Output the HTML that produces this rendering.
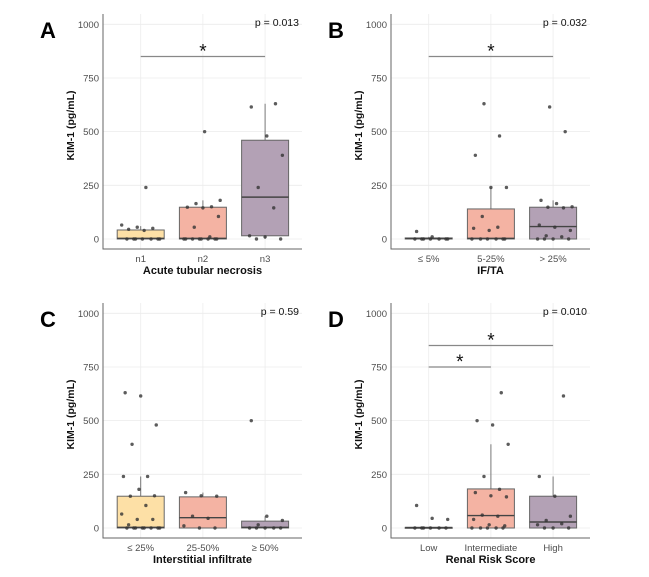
<!DOCTYPE html>
<html><head><meta charset="utf-8"><style>
body{margin:0;background:#fff}
svg{display:block;font-family:"Liberation Sans",Arial,sans-serif}
</style></head><body>
<svg id="chart" width="649" height="577" viewBox="0 0 649 577" xmlns="http://www.w3.org/2000/svg"></svg>
<script>
const yTicks=[0,250,500,750,1000];
const fills=["#fde0a6","#f4b3a3","#b3a1b5"];
// Panel A
const catsA=["n1","n2","n3"];
const boxA=[[0,0,3,42,60],[0,0,3,148,180],[0,15,195,460,630]];
const ptsA=[[0,0,0,0,0,0,0,40,45,50,55,65,240],[0,0,0,0,0,0,0,0,10,55,105,145,148,150,165,180,500],[0,0,10,15,145,240,390,480,615,630]];
// Panel B
const catsB=["≤ 5%","5-25%","> 25%"];
const boxB=[[0,0,2,5,10],[0,0,3,140,240],[0,0,58,148,180]];
const ptsB=[[0,0,0,0,0,0,0,10,35],[0,0,0,0,0,0,40,50,55,105,240,240,390,480,630],[0,0,0,0,10,15,40,55,65,145,148,150,165,180,500,615]];
// Panel C
const catsC=["≤ 25%","25-50%","≥ 50%"];
const boxC=[[0,0,3,148,240],[0,0,48,145,165],[0,0,3,32,55]];
const ptsC=[[0,0,0,0,0,0,0,0,15,40,40,65,105,148,150,180,240,240,390,480,615,630],[0,0,10,45,55,148,150,165],[0,0,0,0,0,15,35,55,500]];
// Panel D
const catsD=["Low","Intermediate","High"];
const boxD=[[0,0,2,3,5],[0,0,58,182,390],[0,0,28,148,240]];
const ptsD=[[0,0,0,0,0,0,40,45,105],[0,0,0,0,0,10,15,40,55,60,145,150,165,180,240,390,480,500,630],[0,0,0,15,20,35,55,148,240,615]];

const svg=document.getElementById('chart');
const NS="http://www.w3.org/2000/svg";
function mk(tag,attrs,parent,text){const e=document.createElementNS(NS,tag);for(const k in attrs)e.setAttribute(k,attrs[k]);if(text!==undefined)e.textContent=text;(parent||svg).appendChild(e);return e;}

function panel(letter,ox,oy,cats,boxes,pts,pText,xTitle,brackets){
  const g=mk('g',{});
  
  
  const left=ox,right=ox+199,top=oy+14,bottom=oy+249;
  const y=v=>oy+239-v*0.2147;
  const x=i=>left+37.7+i*62.2;
  const bw=47;
  yTicks.forEach(t=>{
    const gl=mk('line',{x1:left,x2:right,y1:y(t),y2:y(t),stroke:'#ececec','stroke-width':0.8},g);
    
    
    const tl=mk('text',{x:left-4,y:y(t)+3.5,'font-size':9.5,fill:'#4d4d4d','text-anchor':'end'},g,String(t));
    
    
  });
  cats.forEach((c,i)=>{
    const gl=mk('line',{x1:x(i),x2:x(i),y1:top,y2:bottom,stroke:'#ececec','stroke-width':0.8},g);
    
    
  });
  const ax=mk('path',{d:`M${left} ${top}V${bottom}H${right}`,stroke:'#666','stroke-width':1,fill:'none'},g);
  
  
  boxes.forEach((b,i)=>{
    const cx=x(i);
    const w=mk('line',{x1:cx,x2:cx,y1:y(b[0]),y2:y(b[4]),stroke:'#777','stroke-width':1},g);
    
    
    const r=mk('rect',{x:cx-bw/2,y:y(b[3]),width:bw,height:Math.max(1,y(b[1])-y(b[3])),fill:fills[i],stroke:'#666','stroke-width':1},g);
    
    
    const m=mk('line',{x1:cx-bw/2,x2:cx+bw/2,y1:y(b[2]),y2:y(b[2]),stroke:'#444','stroke-width':1.4},g);
    
    
  });
  pts.forEach((arr,i)=>{
    arr.forEach((v,j)=>{
      const jit=(((j*37+i*11+7)%23)/22-0.5)*38;
      const p=mk('circle',{cx:x(i)+jit,cy:y(v),r:1.7,fill:'#333','fill-opacity':0.8},g);
      
      
    });
    const cl=mk('text',{x:x(i),y:oy+262,'font-size':9.5,fill:'#4d4d4d','text-anchor':'middle'},g,cats[i]);
    
    
  });
  brackets.forEach(br=>{
    const bl=mk('line',{x1:x(br[0]),x2:x(br[1]),y1:y(br[2]),y2:y(br[2]),stroke:'#888','stroke-width':1.2},g);
    
    
    const st=mk('text',{x:(x(br[0])+x(br[1]))/2,y:y(br[2])+1,'font-size':19,fill:'#111','text-anchor':'middle'},g,'*');
    
    
  });
  const pt=mk('text',{x:right-3,y:oy+26,'font-size':10.5,fill:'#111','text-anchor':'end'},g,pText);
  
  
  const xt=mk('text',{x:(left+right)/2,y:oy+274,'font-size':11,'font-weight':'bold',fill:'#111','text-anchor':'middle'},g,xTitle);
  
  
  const yt=mk('text',{x:0,y:0,'font-size':10.5,'font-weight':'bold',fill:'#111','text-anchor':'middle',transform:`translate(${left-29},${(top+bottom)/2-6}) rotate(-90)`},g,'KIM-1 (pg/mL)');
  
  
  const lt=mk('text',{x:ox-63,y:oy+38,'font-size':22,'font-weight':'bold',fill:'#000'},g,letter);
  
  
}
panel('A',103,0,catsA,boxA,ptsA,'p = 0.013','Acute tubular necrosis',[[0,2,850]]);
panel('B',391,0,catsB,boxB,ptsB,'p = 0.032','IF/TA',[[0,2,850]]);
panel('C',103,289,catsC,boxC,ptsC,'p = 0.59','Interstitial infiltrate',[]);
panel('D',391,289,catsD,boxD,ptsD,'p = 0.010','Renal Risk Score',[[0,2,850],[0,1,750]]);
</script>
</body></html>
